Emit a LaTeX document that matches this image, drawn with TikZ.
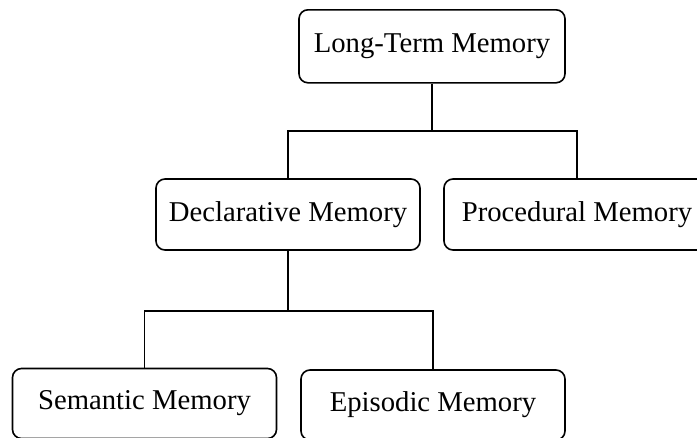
\documentclass[tikz,border=0pt]{standalone}
\usepackage{fontspec}
\setmainfont{Liberation Serif}
\begin{document}
\begin{tikzpicture}[x=1pt,y=1pt,
  memnode/.style={draw=black, line width=1.6pt, rounded corners=9pt, fill=white,
    inner sep=0pt, minimum height=71pt, align=center,
    font=\fontsize{28.7}{32}\selectfont},
  link/.style={draw=black, line width=1.6pt}]
\useasboundingbox (0,0) rectangle (697,-437);
\begin{scope}
\clip (0,0) rectangle (697,-437);
\node[memnode, minimum width=266pt, minimum height=73pt] (ltm) at (432,-46.3) {Long-Term Memory};
\node[memnode, minimum width=264pt] (decl) at (288,-214.5) {Declarative Memory};
\node[memnode, minimum width=266pt] (proc) at (577,-214.5) {Procedural Memory};
\node[memnode, minimum width=264pt, minimum height=70pt] (sem) at (144.5,-403.5) {Semantic Memory};
\node[memnode, minimum width=264pt, minimum height=70pt] (epi) at (433,-405) {Episodic Memory};
\coordinate (j1) at (432,-130.7);
\coordinate (j2) at (288,-310.7);
\draw[link] (ltm.south) -- (j1);
\draw[link] (decl.north) |- (proc.north |- j1) -- (proc.north);
\draw[link] (decl.south) -- (j2);
\draw[link] (sem.north) |- (epi.north |- j2) -- (epi.north);
\end{scope}
\end{tikzpicture}
\end{document}
